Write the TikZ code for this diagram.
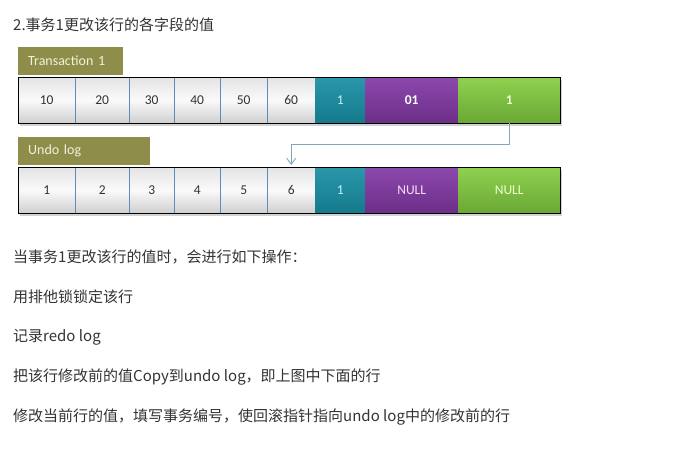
\documentclass[tikz,border=0pt]{standalone}
\usepackage{fontspec}
\setmainfont{Carlito}
\newfontfamily\cjk{Noto Sans CJK SC}
\usetikzlibrary{shadows,arrows.meta,calc}
\definecolor{olivebox}{HTML}{8E8E4A}
\definecolor{labeltext}{HTML}{F2F2DC}
\definecolor{tealA}{HTML}{2A97AA}
\definecolor{tealB}{HTML}{147A8C}
\definecolor{purpA}{HTML}{8D48AC}
\definecolor{purpB}{HTML}{6C2E88}
\definecolor{grnA}{HTML}{8FD150}
\definecolor{grnB}{HTML}{6AA834}
\definecolor{sepblue}{HTML}{5B8DB8}
\definecolor{linkblue}{HTML}{7FA8B8}
\definecolor{bodytext}{HTML}{333333}
\definecolor{tealtext}{HTML}{C8F2FF}
\definecolor{purptext}{HTML}{F4DDF6}
\definecolor{grntext}{HTML}{EEFFD2}
\tikzset{
  cellbase/.style={anchor=north west, minimum height=46pt, inner sep=0pt, font=\fontsize{13.5}{15}\selectfont},
  graycell/.style={cellbase, top color=gray!22, bottom color=gray!38, middle color=white!96!gray, draw=sepblue, line width=0.4pt, text=bodytext},
  tealcell/.style={cellbase, top color=tealA, bottom color=tealB, text=tealtext},
  purpcell/.style={cellbase, top color=purpA, bottom color=purpB, text=purptext},
  grncell/.style={cellbase, top color=grnA, bottom color=grnB, text=grntext},
  tagbox/.style={anchor=north west, fill=olivebox, text=labeltext, inner sep=0pt, minimum height=28pt, text width=#1, align=left, font=\fontsize{14}{16}\selectfont},
  rowframe/.style={draw=black, line width=0.8pt},
  rowshadow/.style={fill=white, drop shadow={shadow xshift=1.5pt, shadow yshift=-2.5pt, opacity=0.35}},
  bodyline/.style={anchor=west, inner sep=0pt, text=bodytext, font=\cjk\fontsize{15}{17}\selectfont},
  link/.style={draw=linkblue, line width=0.9pt, -{Straight Barb[length=6pt,width=9pt]}}
}
\begin{document}
\begin{tikzpicture}[x=1pt,y=-1pt]
\useasboundingbox[fill=white] (0,0) rectangle (677,448);

\node[bodyline] (title) at (13,25) {2.事务1更改该行的各字段的值};

% Transaction 1
\node[tagbox=105pt] (t1) at (18,47) {\hspace{10pt}Transaction 1};
\fill[rowshadow] (18,77) rectangle (560,123);
\node[graycell, minimum width=57pt] (a1) at (18,77) {10};
\node[graycell, minimum width=54pt] (a2) at (75,77) {20};
\node[graycell, minimum width=45pt] (a3) at (129,77) {30};
\node[graycell, minimum width=46pt] (a4) at (174,77) {40};
\node[graycell, minimum width=47pt] (a5) at (220,77) {50};
\node[graycell, minimum width=48pt] (a6) at (267,77) {60};
\node[tealcell, minimum width=50pt] (a7) at (315,77) {1};
\node[purpcell, minimum width=93pt, text=white, font=\bfseries\fontsize{13.5}{15}\selectfont] (a8) at (365,77) {01};
\node[grncell, minimum width=102pt, font=\bfseries\fontsize{13.5}{15}\selectfont] (a9) at (458,77) {1};
\draw[rowframe] (a1.north west) rectangle (a9.south east);

% Undo log
\node[tagbox=132pt] (u1) at (18,137) {\hspace{10pt}Undo log};
\fill[rowshadow] (18,167) rectangle (560,213);
\node[graycell, minimum width=57pt] (b1) at (18,167) {1};
\node[graycell, minimum width=54pt] (b2) at (75,167) {2};
\node[graycell, minimum width=45pt] (b3) at (129,167) {3};
\node[graycell, minimum width=46pt] (b4) at (174,167) {4};
\node[graycell, minimum width=47pt] (b5) at (220,167) {5};
\node[graycell, minimum width=48pt] (b6) at (267,167) {6};
\node[tealcell, minimum width=50pt] (b7) at (315,167) {1};
\node[purpcell, minimum width=93pt] (b8) at (365,167) {NULL};
\node[grncell, minimum width=102pt] (b9) at (458,167) {NULL};
\draw[rowframe] (b1.north west) rectangle (b9.south east);

% connector
\draw[link] (a9.south) -- ++(0,21) -| ($(b6.north)+(0,-2)$);

% body text
\node[bodyline] (l1) at (13,257) {当事务1更改该行的值时，会进行如下操作：};
\node[bodyline] (l2) at (13,297) {用排他锁锁定该行};
\node[bodyline] (l3) at (13,337) {记录redo log};
\node[bodyline] (l4) at (13,377) {把该行修改前的值Copy到undo log，即上图中下面的行};
\node[bodyline] (l5) at (13,417) {修改当前行的值，填写事务编号，使回滚指针指向undo log中的修改前的行};
\end{tikzpicture}
\end{document}
